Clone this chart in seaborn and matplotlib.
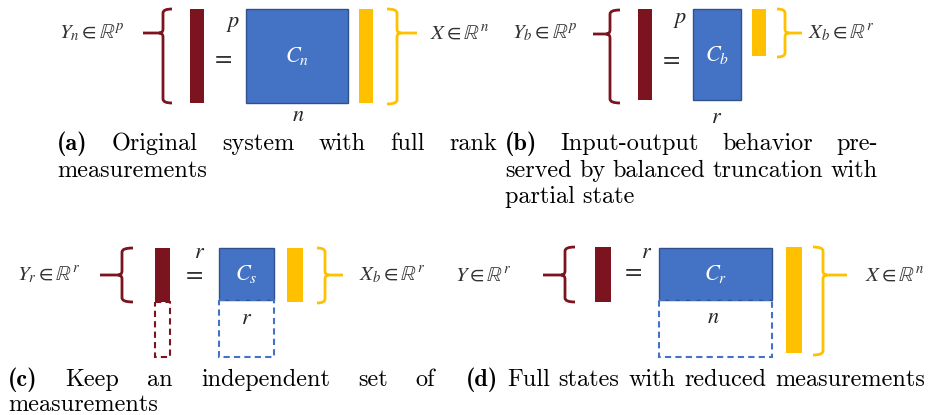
import matplotlib
matplotlib.use("Agg")
import matplotlib.pyplot as plt
import seaborn as sns
from matplotlib.patches import Rectangle, PathPatch
from matplotlib.path import Path
from matplotlib.font_manager import FontProperties

# ---- content -------------------------------------------------------------
y_labels = [r'$Y_n \in \mathbb{R}^p$', r'$Y_b \in \mathbb{R}^p$',
            r'$Y_r \in \mathbb{R}^r$', r'$Y \in \mathbb{R}^r$']
x_labels = [r'$X \in \mathbb{R}^n$', r'$X_b \in \mathbb{R}^r$',
            r'$X_b \in \mathbb{R}^r$', r'$X \in \mathbb{R}^n$']
c_labels = [r'$C_n$', r'$C_b$', r'$C_s$', r'$C_r$']
row_dims = ['p', 'p', 'r', 'r']
col_dims = ['n', 'r', 'r', 'n']
panel_letters = ['(a)', '(b)', '(c)', '(d)']
caption_lines = [
    [['Original', 'system', 'with', 'full', 'rank'], ['measurements']],
    [['Input-output', 'behavior', 'pre-'],
     ['served', 'by', 'balanced', 'truncation', 'with'], ['partial state']],
    [['Keep', 'an', 'independent', 'set', 'of'], ['measurements']],
    [['Full', 'states', 'with', 'reduced', 'measurements']],
]

# ---- layout (pixel coordinates of the 932x415 canvas) ---------------------
# ylab, lbrace(tick, vert, hook, top, bot, mid), ybar(x0,x1,y0,y1), eq, rowdim,
# crect(x0,x1,y0,y1), coldim, xbar, rbrace(tick, vert, hook, top, bot, mid), xlab
layout = [
    dict(ylab=(92, 33), lb=(143, 163, 172, 9, 103, 33), yb=(190, 204, 9, 103),
         eq=(222, 57), rd=(233, 24), cr=(246, 348, 9, 103), cd=(298, 115),
         xb=(359, 373, 9, 103), rb=(417, 397, 387, 9, 104, 33), xlab=(460, 33),
         ydash=None, cdash=None),
    dict(ylab=(545, 33), lb=(593, 610, 620, 10, 103, 34), yb=(638, 652, 9, 100),
         eq=(670, 58), rd=(680, 20), cr=(693, 741, 9, 100), cd=(717, 117),
         xb=(752, 766, 9, 56), rb=(802, 785, 777, 9, 57, 33), xlab=(841, 33),
         ydash=None, cdash=None),
    dict(ylab=(49, 275), lb=(100, 122, 133, 248, 302, 275), yb=(155, 170, 248, 302),
         eq=(193, 273), rd=(200, 252), cr=(219, 274, 248, 300), cd=(247, 318),
         xb=(287, 303, 248, 302), rb=(343, 325, 317, 248, 303, 275), xlab=(392, 275),
         ydash=(155, 170, 302, 357), cdash=(219, 274, 300, 357)),
    dict(ylab=(483, 275), lb=(543, 565, 575, 247, 302, 275), yb=(595, 611, 247, 302),
         eq=(632, 270), rd=(647, 252), cr=(659, 772, 248, 300), cd=(713, 317),
         xb=(786, 802, 247, 353), rb=(847, 823, 813, 247, 355, 275), xlab=(895, 275),
         ydash=None, cdash=(659, 772, 300, 357)),
]
caption_boxes = [  # x0, x1, first baseline, line step
    (57, 497, 150, 26.5), (505, 878, 150, 26.5), (8, 435, 386, 25), (466, 925, 386, 25)]

maroon = '#7B141E'
blue = '#4472C4'
blue_edge = '#2F528F'
yellow = '#FFC000'

sns.set_theme(style='white')
plt.rcParams['mathtext.fontset'] = 'stix'

fig = plt.figure(figsize=(9.32, 4.15), dpi=100)
ax = fig.add_axes([0, 0, 1, 1])
ax.set_xlim(0, 932)
ax.set_ylim(415, 0)
ax.axis('off')


def brace(ax, tick, vert, hook, top, bot, mid, color):
    r = 4
    s = 1 if hook > vert else -1
    verts = [(hook, top), (vert, top), (vert, top + r), (vert, mid - r),
             (vert, mid), (vert - s * r, mid), (tick, mid),
             (vert - s * r, mid), (vert, mid), (vert, mid + r),
             (vert, bot - r), (vert, bot), (hook, bot)]
    codes = [Path.MOVETO, Path.CURVE3, Path.CURVE3, Path.LINETO,
             Path.CURVE3, Path.CURVE3, Path.LINETO,
             Path.MOVETO, Path.CURVE3, Path.CURVE3, Path.LINETO,
             Path.CURVE3, Path.CURVE3]
    ax.add_patch(PathPatch(Path(verts, codes), fill=False, edgecolor=color,
                           lw=2.0, capstyle='butt', joinstyle='round'))


def box(ax, b, **kw):
    x0, x1, y0, y1 = b
    ax.add_patch(Rectangle((x0, y0), x1 - x0, y1 - y0, **kw))


for i, g in enumerate(layout):
    ax.text(*g['ylab'], y_labels[i], ha='center', va='center', fontsize=15, color='#333333')
    ax.text(*g['xlab'], x_labels[i], ha='center', va='center', fontsize=15, color='#333333')
    brace(ax, *g['lb'], maroon)
    brace(ax, *g['rb'], yellow)
    box(ax, g['yb'], facecolor=maroon, edgecolor='none')
    box(ax, g['xb'], facecolor=yellow, edgecolor='none')
    box(ax, g['cr'], facecolor=blue, edgecolor=blue_edge, lw=1.0)
    if g['ydash']:
        box(ax, g['ydash'], fill=False, edgecolor=maroon, lw=1.5, ls=(0, (3, 2)))
    if g['cdash']:
        box(ax, g['cdash'], fill=False, edgecolor=blue, lw=1.5, ls=(0, (3, 2)))
    cx = (g['cr'][0] + g['cr'][1]) / 2
    cy = (g['cr'][2] + g['cr'][3]) / 2
    ax.text(cx, cy, c_labels[i], color='white', ha='center', va='center', fontsize=16)
    ax.text(*g['eq'], r'$=$', ha='center', va='center', fontsize=18, color='#333333')
    ax.text(*g['rd'], '$' + row_dims[i] + '$', ha='center', va='center', fontsize=16)
    ax.text(*g['cd'], '$' + col_dims[i] + '$', ha='center', va='center', fontsize=16)

# ---- captions, justified like the LaTeX subcaptions ----------------------
renderer = fig.canvas.get_renderer()
reg = FontProperties(family='cmr10', size=17.5)
bold = FontProperties(family='cmb10', size=17.5)


def width(s, fp):
    w, h, d = renderer.get_text_width_height_descent(s, fp, ismath=False)
    return w


for i, (x0, x1, base, step) in enumerate(caption_boxes):
    lines = caption_lines[i]
    for j, words in enumerate(lines):
        y = base + j * step
        items = [(w, reg) for w in words]
        if j == 0:
            items = [(panel_letters[i], bold)] + items
        last = j == len(lines) - 1 and i != 3
        if last or len(items) == 1:
            ax.text(x0, y, ' '.join(w for w, _ in items), fontproperties=reg,
                    ha='left', va='baseline', color='black')
            continue
        ws = [width(w, fp) for w, fp in items]
        gap = (x1 - x0 - sum(ws)) / (len(items) - 1)
        x = x0
        for (w, fp), wd in zip(items, ws):
            ax.text(x, y, w, fontproperties=fp, ha='left', va='baseline', color='black')
            x += wd + gap

fig.savefig('out.png', dpi=100)
